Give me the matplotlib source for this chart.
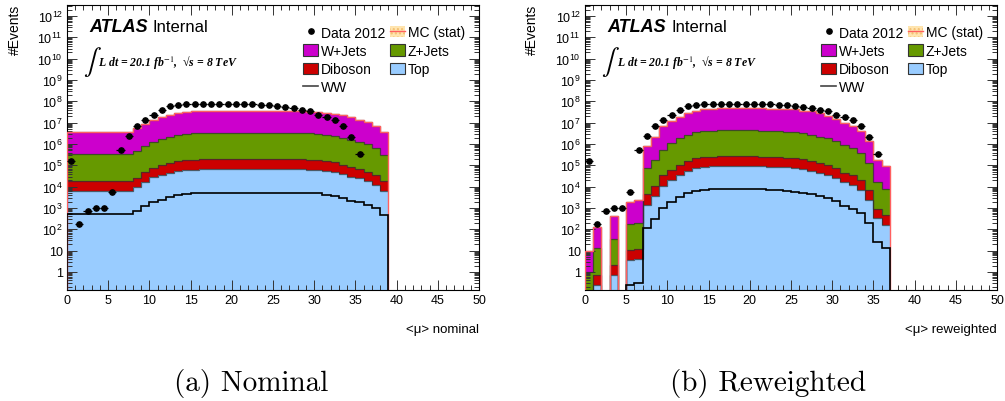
import numpy as np
import matplotlib
matplotlib.use('Agg')
import matplotlib.pyplot as plt
from matplotlib.patches import Patch
from matplotlib.lines import Line2D
from matplotlib.ticker import FixedLocator, MultipleLocator, LogLocator, NullFormatter

plt.rcParams['font.family'] = ['Liberation Sans', 'DejaVu Sans']
plt.rcParams['mathtext.fontset'] = 'custom'
plt.rcParams['mathtext.rm'] = 'Liberation Sans'
plt.rcParams['mathtext.it'] = 'Liberation Sans:italic'
plt.rcParams['mathtext.bf'] = 'Liberation Sans:bold'

# ---- data (events per unit of <mu>, bins of width 1 starting at 0) ----
data_counts = [1.58e5, 178, 708, 1000, 1000, 5500, 5.25e5, 2.29e6, 6.76e6, 1.38e7,
               2.40e7, 4.07e7, 6.17e7, 6.92e7, 7.24e7, 7.59e7, 7.76e7, 7.76e7, 7.59e7, 7.59e7,
               7.59e7, 7.41e7, 7.24e7, 7.08e7, 6.61e7, 6.31e7, 5.37e7, 4.90e7, 4.07e7, 3.39e7,
               2.34e7, 1.78e7, 1.32e7, 6.76e6, 2.19e6, 3.31e5]

# nominal <mu>
top_nom = [6460, 6460, 6460, 6460, 6460, 6460, 6460, 6460, 9330, 15800,
           27500, 35500, 43600, 52500, 58900, 63100, 64600, 64600, 64600, 64600,
           64600, 64600, 64600, 64600, 64600, 64600, 64600, 64600, 64600, 63100,
           58900, 52500, 46800, 38000, 29500, 24500, 19100, 12300, 6460]
dib_nom = [12600, 12600, 12600, 12600, 12600, 12600, 12600, 12600, 17000, 31000,
           48400, 69200, 85200, 102000, 115000, 123000, 126000, 126000, 126000, 126000,
           126000, 126000, 126000, 126000, 126000, 126000, 126000, 126000, 126000, 123000,
           115000, 102000, 91200, 69200, 57600, 43100, 31000, 23200, 11300]
zj_nom = [3.12e5, 3.12e5, 3.12e5, 3.12e5, 3.12e5, 3.12e5, 3.12e5, 3.12e5, 4.42e5, 7.85e5,
          1.21e6, 1.63e6, 2.06e6, 2.48e6, 2.78e6, 2.97e6, 3.12e6, 3.12e6, 3.12e6, 3.12e6,
          3.12e6, 3.12e6, 3.12e6, 3.12e6, 3.12e6, 3.12e6, 3.12e6, 3.12e6, 3.12e6, 2.97e6,
          2.78e6, 2.48e6, 2.15e6, 1.75e6, 1.50e6, 1.22e6, 9.5e5, 5.96e5, 2.91e5]
wj_nom = [3.47e6, 3.47e6, 3.47e6, 3.47e6, 3.47e6, 3.47e6, 3.47e6, 3.47e6, 5.15e6, 8.08e6,
          1.19e7, 1.69e7, 2.12e7, 2.56e7, 2.87e7, 3.07e7, 3.22e7, 3.22e7, 3.22e7, 3.22e7,
          3.22e7, 3.22e7, 3.22e7, 3.22e7, 3.22e7, 3.22e7, 3.22e7, 3.22e7, 3.22e7, 2.99e7,
          2.72e7, 2.56e7, 2.34e7, 2.10e7, 1.62e7, 1.25e7, 1.02e7, 6.61e6, 3.24e6]
ww_nom = [525, 525, 525, 525, 525, 525, 525, 525, 741, 1290,
          1860, 2450, 3160, 3890, 4570, 4790, 5250, 5250, 5250, 5250,
          5250, 5250, 5250, 5250, 5250, 5250, 5250, 5250, 5250, 5010,
          4790, 4170, 3550, 2820, 2190, 1860, 1380, 955, 490]

# reweighted <mu>
top_rw = [0.05, 0.245, 0, 0.74, 0, 3.63, 4.07, 1445, 3800, 11200,
          21400, 35500, 53700, 72400, 83200, 89100, 93300, 93300, 93300, 93300,
          93300, 89100, 85100, 83200, 79400, 75900, 64600, 56200, 43600, 36300,
          25700, 15800, 12300, 7240, 2450, 339, 166]
dib_rw = [0.05, 0.48, 0, 1.4, 0, 7.1, 7.9, 2920, 7400, 24300,
          41700, 69200, 112000, 141000, 157000, 168000, 170000, 170000, 170000, 170000,
          170000, 162000, 155000, 151000, 145000, 138000, 126000, 110000, 85200, 70900,
          50200, 27800, 23200, 13200, 4790, 552, 324]
zj_rw = [0.9, 12.2, 0, 33.4, 0, 167, 192, 6.8e4, 1.71e5, 5.02e5,
         1.01e6, 1.76e6, 2.59e6, 3.33e6, 3.65e6, 4.01e6, 4.11e6, 4.11e6, 4.11e6, 4.11e6,
         4.11e6, 3.92e6, 3.74e6, 3.66e6, 3.50e6, 3.34e6, 2.97e6, 2.59e6, 2.06e6, 1.75e6,
         1.27e6, 8.89e5, 6.10e5, 3.43e5, 1.19e5, 1.49e4, 7270]
wj_rw = [8.3, 119, 0, 372, 0, 1820, 2090, 7.6e5, 1.86e6, 6.22e6,
         1.04e7, 1.72e7, 2.55e7, 3.28e7, 3.78e7, 4.14e7, 4.24e7, 4.24e7, 4.24e7, 4.24e7,
         4.24e7, 4.26e7, 4.17e7, 4.18e7, 4.10e7, 4.01e7, 3.31e7, 3.36e7, 2.60e7, 1.95e7,
         1.35e7, 8.40e6, 6.59e6, 3.53e6, 1.32e6, 1.62e5, 8.77e4]
ww_rw = [0, 0, 0, 0, 0, 0.245, 0.30, 112, 302, 955,
         1860, 3160, 4900, 6460, 7240, 7760, 8130, 8130, 8130, 7760,
         7760, 7760, 7240, 6760, 6310, 5890, 5250, 4570, 3550, 2950,
         2040, 1200, 891, 589, 200, 26.3, 13.2]

samples = ['Top', 'Diboson', 'Z+Jets', 'W+Jets']
colors = {'Top': '#99ccff', 'Diboson': '#cc0000', 'Z+Jets': '#669900', 'W+Jets': '#cc00cc'}
y_labels = ['1', '10'] + ['$10^{%d}$' % k for k in range(2, 13)]

W, H = 1005, 402
AX_W, AX_H = 412, 285
FLOOR = 1e-3


def draw_panel(ax, comps, ww, xlabel):
    n = len(ww)
    edges = np.arange(n + 1)
    base = np.full(n, FLOOR)
    # stacked fills, bottom layer first
    for name, vals in zip(samples, comps):
        top = base + np.asarray(vals, dtype=float)
        ax.stairs(top, edges, baseline=base, fill=True, color=colors[name], lw=0, zorder=1)
        base = top
    base = np.full(n, FLOOR)
    for name, vals in zip(samples, comps):
        top = base + np.asarray(vals, dtype=float)
        ax.stairs(top, edges, baseline=None, color='#333333', alpha=0.75, lw=0.9, zorder=2)
        base = top
    # total MC outline
    ax.stairs(base, edges, baseline=FLOOR, color='#ff6060', lw=1.0, zorder=3)
    # WW
    ax.stairs(np.maximum(np.asarray(ww, dtype=float), FLOOR), edges, baseline=FLOOR,
              color='black', lw=1.2, zorder=4)
    # data
    xc = np.arange(len(data_counts)) + 0.5
    ax.errorbar(xc, data_counts, xerr=0.5, fmt='o', color='black', ms=3.8,
                elinewidth=0.9, capsize=0, zorder=5)

    ax.set_xlim(0, 50)
    ax.set_yscale('log')
    ax.set_ylim(0.143, 3.3e12)
    ax.yaxis.set_major_locator(FixedLocator([10.0 ** k for k in range(13)]))
    ax.set_yticklabels(y_labels)
    ax.yaxis.set_minor_locator(LogLocator(base=10, subs=np.arange(2, 10), numticks=40))
    ax.yaxis.set_minor_formatter(NullFormatter())
    ax.xaxis.set_major_locator(MultipleLocator(5))
    ax.xaxis.set_minor_locator(MultipleLocator(1))
    ax.tick_params(which='both', direction='in', top=True, right=True, labelsize=9,
                   width=0.7, color='#333333')
    ax.tick_params(which='major', length=7, pad=3)
    ax.tick_params(which='minor', length=3.5)
    for s in ax.spines.values():
        s.set_linewidth(0.8)

    def at(px, py):
        return px / AX_W, 1 - py / AX_H

    ax.text(*at(22, 26.5), 'ATLAS', fontsize=13, fontweight='bold', fontstyle='italic',
            transform=ax.transAxes, va='baseline')
    ax.text(*at(86, 26.5), 'Internal', fontsize=12, transform=ax.transAxes, va='baseline')
    ax.text(*at(16, 56), r'$\int$', fontsize=19, math_fontfamily='stix',
            transform=ax.transAxes, va='center')
    ax.text(*at(31.5, 61), 'L dt = 20.1 fb$^{-1}$,  \u221as = 8 TeV', fontsize=8.5,
            family='Liberation Serif', fontweight='bold', fontstyle='italic',
            math_fontfamily='stix', transform=ax.transAxes, va='baseline')

    handles = [
        Line2D([], [], marker='o', ls='none', color='black', ms=3.8),
        Patch(facecolor=colors['W+Jets'], edgecolor='#333333', lw=0.8),
        Patch(facecolor=colors['Diboson'], edgecolor='#333333', lw=0.8),
        Line2D([], [], color='#444444', lw=1.2),
        (Patch(facecolor='#ffe5b0', edgecolor='#f3c070', hatch='....', lw=0),
         Line2D([], [], color='#ff6060', lw=1.0)),
        Patch(facecolor=colors['Z+Jets'], edgecolor='#333333', lw=0.8),
        Patch(facecolor=colors['Top'], edgecolor='#333333', lw=0.8),
    ]
    labels = ['Data 2012', 'W+Jets', 'Diboson', 'WW', 'MC (stat)', 'Z+Jets', 'Top']
    ax.legend(handles, labels, ncols=2, loc='upper left', bbox_to_anchor=at(236, 20.5),
              frameon=False, fontsize=10, borderpad=0, borderaxespad=0,
              handlelength=1.1, handleheight=0.85, handletextpad=0.2,
              labelspacing=0.31, columnspacing=0.3)

    ax.text(1.0, 1 - (330.5 - 6) / AX_H, xlabel, fontsize=9.5, ha='right', va='center',
            transform=ax.transAxes)


fig = plt.figure(figsize=(W / 100, H / 100), dpi=100)
ax_l = fig.add_axes([67 / W, 111 / H, AX_W / W, AX_H / H])
ax_r = fig.add_axes([585 / W, 111 / H, AX_W / W, AX_H / H])

draw_panel(ax_l, [top_nom, dib_nom, zj_nom, wj_nom], ww_nom, '<\u03bc> nominal')
draw_panel(ax_r, [top_rw, dib_rw, zj_rw, wj_rw], ww_rw, '<\u03bc> reweighted')

fig.text(15 / W, 1 - 5 / H, '#Events', rotation=90, ha='center', va='top', fontsize=10)
fig.text(532 / W, 1 - 5 / H, '#Events', rotation=90, ha='center', va='top', fontsize=10)

fig.text(251 / W, 1 - 384 / H, '(a) Nominal', family='cmr10', fontsize=21,
         ha='center', va='center')
fig.text(768 / W, 1 - 384 / H, '(b) Reweighted', family='cmr10', fontsize=21,
         ha='center', va='center')

fig.savefig('out.png', dpi=100)
